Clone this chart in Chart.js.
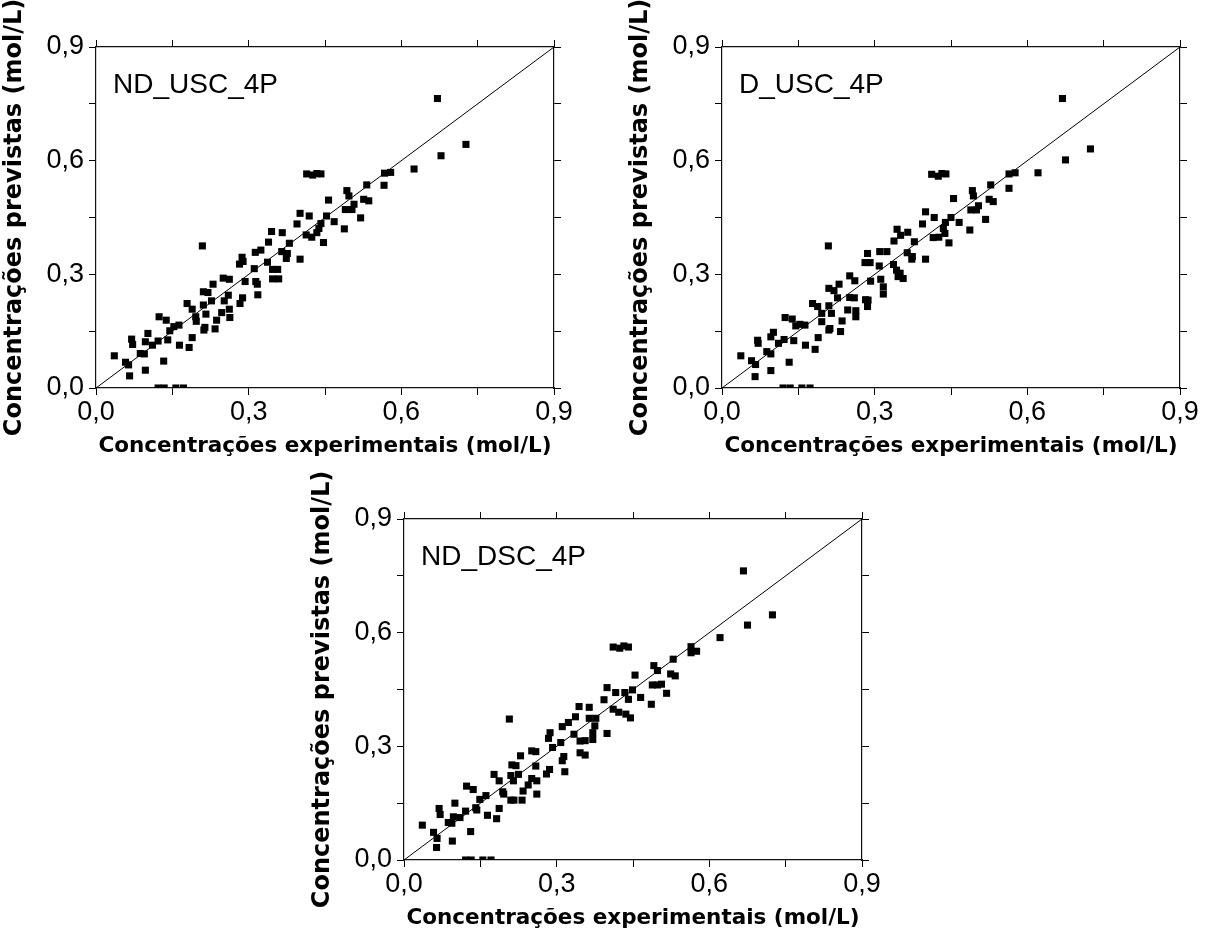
<!DOCTYPE html>
<html>
<head>
<meta charset="utf-8">
<script src="https://cdn.jsdelivr.net/npm/chart.js@4.4.1/dist/chart.umd.min.js"></script>
<style>
  html, body { margin: 0; padding: 0; background: #fff; overflow: hidden; }
  canvas { position: absolute; }
</style>
</head>
<body>
<canvas id="c1" width="585" height="462" style="left:0px;top:0px"></canvas>
<canvas id="c2" width="585" height="462" style="left:626px;top:0px"></canvas>
<canvas id="c3" width="585" height="462" style="left:308px;top:472px"></canvas>
<script>
// axis range and tick step (minor ticks every 0.15, labels every 0.3)
const axisMin = 0;
const axisMax = 0.9;
const tickStep = 0.15;
const diagonal = [0, 0.9];

const xTitle = 'Concentrações experimentais (mol/L)';
const yTitle = 'Concentrações previstas (mol/L)';

// ND_USC_4P
const ndUscX = [
  0.671,0.727,0.678,0.625,0.567,0.579,0.566,0.532,
  0.414,0.426,0.434,0.442,
  0.493,0.497,0.526,0.536,0.507,0.490,0.503,0.520,
  0.457,0.401,0.419,0.453,0.468,0.395,0.442,0.438,0.434,
  0.488,0.413,0.424,0.447,
  0.345,0.366,0.339,0.380,0.313,0.324,0.365,0.376,0.374,
  0.401,0.287,0.289,0.282,0.337,0.311,0.347,0.357,
  0.209,0.347,0.359,0.250,0.262,0.230,0.293,0.314,0.317,
  0.211,0.220,0.318,0.260,0.227,0.252,0.288,0.283,
  0.179,0.189,0.211,0.262,0.247,0.216,0.196,0.197,0.263,0.237,
  0.124,0.138,0.163,0.153,0.145,0.214,0.212,0.234,
  0.102,0.070,0.072,0.097,0.111,0.122,0.141,0.189,0.164,0.183,
  0.087,0.095,0.036,0.058,0.064,0.133,0.097,0.066,
  0.122,0.134,0.157,0.172
];
const ndUscY = [
  0.764,0.643,0.613,0.578,0.567,0.569,0.535,0.536,
  0.565,0.562,0.566,0.565,
  0.521,0.507,0.498,0.494,0.485,0.471,0.471,0.449,
  0.496,0.461,0.454,0.454,0.439,0.433,0.434,0.421,0.410,
  0.420,0.404,0.398,0.384,
  0.413,0.410,0.385,0.382,0.358,0.364,0.360,0.355,0.342,
  0.340,0.345,0.334,0.327,0.332,0.315,0.313,0.313,
  0.375,0.288,0.288,0.290,0.287,0.274,0.281,0.281,0.274,
  0.254,0.252,0.246,0.245,0.230,0.230,0.238,0.223,
  0.223,0.208,0.219,0.208,0.199,0.195,0.188,0.176,0.186,0.179,
  0.188,0.179,0.166,0.162,0.151,0.160,0.153,0.156,
  0.144,0.129,0.115,0.122,0.113,0.124,0.127,0.133,0.113,0.107,
  0.091,0.090,0.085,0.068,0.061,0.071,0.047,0.032,
  0,0,0,0
];

// D_USC_4P
const dUscX = [
  0.669,0.724,0.675,0.621,0.564,0.576,0.564,0.528,
  0.412,0.425,0.432,0.440,
  0.492,0.494,0.525,0.533,0.504,0.489,0.500,0.518,
  0.455,0.400,0.417,0.450,0.439,0.394,0.466,
  0.435,0.438,0.426,0.415,0.487,0.446,
  0.344,0.351,0.365,0.338,0.378,
  0.286,0.310,0.324,0.364,0.374,0.373,0.400,
  0.281,0.291,0.309,0.337,0.343,0.350,0.356,0.346,
  0.209,0.251,0.261,0.312,0.317,0.317,0.292,
  0.230,0.210,0.220,0.227,0.251,0.260,0.282,0.287,0.286,
  0.178,0.188,0.210,0.215,0.196,0.196,0.247,0.263,0.263,0.236,
  0.212,0.210,0.233,
  0.124,0.138,0.145,0.153,0.163,
  0.101,0.096,0.070,0.071,0.111,0.122,0.141,0.189,0.164,0.183,
  0.088,0.096,0.037,0.058,0.066,0.132,0.096,0.065,
  0.120,0.134,0.157,0.173
];
const dUscY = [
  0.764,0.631,0.602,0.568,0.565,0.568,0.527,0.536,
  0.564,0.559,0.566,0.565,
  0.521,0.507,0.498,0.492,0.481,0.470,0.470,0.445,
  0.500,0.465,0.450,0.450,0.437,0.433,0.437,
  0.421,0.408,0.398,0.397,0.417,0.383,
  0.419,0.403,0.411,0.388,0.386,
  0.355,0.360,0.360,0.357,0.347,0.340,0.340,
  0.331,0.331,0.322,0.326,0.311,0.303,0.289,0.294,
  0.375,0.296,0.283,0.287,0.267,0.248,0.282,
  0.274,0.263,0.257,0.238,0.239,0.238,0.233,0.232,0.215,
  0.223,0.215,0.217,0.197,0.197,0.175,0.206,0.204,0.188,0.177,
  0.157,0.153,0.149,
  0.186,0.182,0.164,0.168,0.166,
  0.147,0.135,0.126,0.118,0.118,0.128,0.125,0.133,0.113,0.102,
  0.096,0.090,0.085,0.072,0.062,0.068,0.046,0.030,
  0,0,0,0
];

// ND_DSC_4P
const ndDscX = [
  0.667,0.724,0.675,0.621,0.564,0.564,0.575,0.529,
  0.411,0.424,0.432,0.441,
  0.491,0.498,0.524,0.533,0.454,0.488,0.498,0.506,0.516,
  0.399,0.416,0.434,0.449,0.441,0.465,0.393,0.486,
  0.411,0.422,0.436,0.445,
  0.344,0.364,0.337,0.364,0.377,0.375,0.399,
  0.323,0.311,0.287,0.284,0.334,0.308,0.346,0.356,0.371,0.371,
  0.207,0.292,0.346,0.356,0.251,0.259,0.229,0.314,0.311,
  0.212,0.220,0.259,0.316,0.177,0.210,0.225,0.187,0.215,
  0.286,0.280,0.251,0.261,0.244,
  0.194,0.196,0.234,0.261,0.210,0.216,0.232,
  0.123,0.136,0.161,0.149,0.141,0.143,
  0.100,0.069,0.071,0.097,0.110,0.121,0.187,0.164,0.182,
  0.087,0.094,0.036,0.058,0.065,0.131,0.095,0.064,
  0.121,0.132,0.155,0.171
];
const ndDscY = [
  0.763,0.647,0.620,0.587,0.563,0.547,0.551,0.530,
  0.562,0.559,0.565,0.562,
  0.513,0.500,0.491,0.486,0.488,0.462,0.462,0.464,0.440,
  0.455,0.442,0.442,0.449,0.424,0.429,0.423,0.411,
  0.398,0.390,0.385,0.375,
  0.405,0.403,0.378,0.374,0.374,0.354,0.334,
  0.363,0.352,0.336,0.321,0.332,0.310,0.314,0.315,0.336,0.318,
  0.372,0.297,0.283,0.277,0.288,0.286,0.275,0.273,0.262,
  0.251,0.249,0.248,0.233,0.226,0.223,0.226,0.209,0.209,
  0.239,0.227,0.215,0.209,0.198,
  0.180,0.174,0.182,0.174,0.158,0.158,0.158,
  0.195,0.186,0.170,0.160,0.138,0.132,
  0.150,0.136,0.120,0.114,0.112,0.129,0.136,0.118,0.109,
  0.099,0.097,0.092,0.073,0.057,0.075,0.050,0.033,
  0,0,0,0
];

const tickFont = { family: '"Liberation Sans", Arial, sans-serif', size: 27 };
const xTitleFont = { family: '"DejaVu Sans", sans-serif', size: 21.5, weight: 'bold' };
const yTitleFont = { family: '"DejaVu Sans", sans-serif', size: 24, weight: 'bold' };

// "0,0" "0,3" ... only on every second tick
function tickLabel(v) {
  const k = Math.round(v / tickStep);
  if (k % 2 !== 0) return '';
  return (k * tickStep).toFixed(1).replace('.', ',');
}

const panelLabel = {
  id: 'panelLabel',
  afterDraw(chart, args, opts) {
    const ctx = chart.ctx;
    const area = chart.chartArea;
    ctx.save();
    ctx.font = '28px "Liberation Sans", Arial, sans-serif';
    ctx.fillStyle = '#000';
    ctx.textBaseline = 'alphabetic';
    ctx.fillText(opts.text, area.left + 17, area.top + 46);
    ctx.restore();
  }
};

function axis(pos, showLabels, size) {
  const horizontal = pos === 'top' || pos === 'bottom';
  const a = {
    type: 'linear',
    axis: horizontal ? 'x' : 'y',
    position: pos,
    min: axisMin,
    max: axisMax,
    ticks: {
      display: showLabels,
      stepSize: tickStep,
      autoSkip: false,
      maxRotation: 0,
      color: '#000',
      font: tickFont,
      padding: horizontal ? 1 : 5,
      callback: tickLabel
    },
    grid: { drawOnChartArea: false, color: '#000', tickLength: 7, lineWidth: 1 },
    border: { display: true, color: '#111', width: 1.2 },
    afterFit: function(s) {
      if (horizontal) s.height = size; else s.width = size;
    }
  };
  if (pos === 'bottom') {
    a.title = { display: true, text: xTitle, color: '#000', font: xTitleFont, padding: { top: 0, bottom: 3 } };
  }
  if (pos === 'left') {
    a.title = { display: true, text: yTitle, color: '#000', font: yTitleFont, padding: { top: 0, bottom: 0 } };
  }
  return a;
}

function makeChart(id, name, xs, ys) {
  const pts = xs.map((x, i) => ({ x: x, y: ys[i] }));
  new Chart(document.getElementById(id), {
    type: 'scatter',
    data: {
      datasets: [
        {
          data: pts,
          pointStyle: 'rect',
          pointRadius: 5,
          backgroundColor: '#000',
          borderColor: '#000',
          borderWidth: 0,
          clip: 0,
          order: 1
        },
        {
          type: 'line',
          data: diagonal.map(v => ({ x: v, y: v })),
          borderColor: '#000',
          borderWidth: 1,
          pointRadius: 0,
          fill: false,
          order: 2
        }
      ]
    },
    options: {
      responsive: false,
      animation: false,
      layout: { padding: { top: 39, right: 23, bottom: 0, left: 0 } },
      scales: {
        x: axis('bottom', true, 74),
        y: axis('left', true, 96),
        xTop: axis('top', false, 8),
        yRight: axis('right', false, 8)
      },
      plugins: {
        legend: { display: false },
        tooltip: { enabled: false },
        panelLabel: { text: name }
      }
    },
    plugins: [panelLabel]
  });
}

makeChart('c1', 'ND_USC_4P', ndUscX, ndUscY);
makeChart('c2', 'D_USC_4P', dUscX, dUscY);
makeChart('c3', 'ND_DSC_4P', ndDscX, ndDscY);
</script>
</body>
</html>
